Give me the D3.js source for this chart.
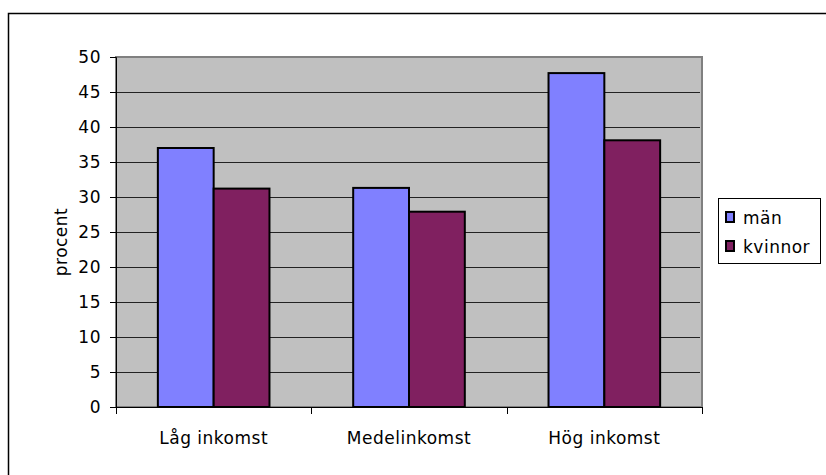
<!DOCTYPE html>
<html>
<head>
<meta charset="utf-8">
<script src="https://cdn.jsdelivr.net/npm/d3@7/dist/d3.min.js"></script>
<style>
  html, body { margin: 0; padding: 0; background: #fff; }
  svg { display: block; font-family: "DejaVu Sans", Verdana, sans-serif; }
  svg text { letter-spacing: 0.5px; }
</style>
</head>
<body>
<svg id="chart" width="826" height="475"></svg>
<script>
// Andel (procent) per inkomstgrupp och kön
const categories = ["Låg inkomst", "Medelinkomst", "Hög inkomst"];
const seriesNames = ["män", "kvinnor"];
const manValues = [37.0, 31.3, 47.7];
const kvinnorValues = [31.2, 27.9, 38.1];
const yTicks = [0, 5, 10, 15, 20, 25, 30, 35, 40, 45, 50];
const colors = ["#8080FF", "#802060"];

const seriesValues = [manValues, kvinnorValues];
const fontSize = 17;
const svg = d3.select("#chart");

// Yttre ram
svg.append("rect")
  .attr("x", 8.5).attr("y", 13.5)
  .attr("width", 900).attr("height", 900)
  .attr("fill", "#fff").attr("stroke", "#000").attr("stroke-width", 1.5);

const plot = { left: 116, right: 702, top: 57, bottom: 407 };

const y = d3.scaleLinear().domain([0, 50]).range([plot.bottom, plot.top]);
const x0 = d3.scaleBand().domain(categories).range([plot.left, plot.right])
  .paddingInner(0).paddingOuter(0);
const x1 = d3.scaleBand().domain(seriesNames).range([0, x0.bandwidth()])
  .paddingInner(0).paddingOuter(0.75);

// Diagramyta
svg.append("rect")
  .attr("x", plot.left).attr("y", plot.top)
  .attr("width", plot.right - plot.left).attr("height", plot.bottom - plot.top)
  .attr("fill", "#C0C0C0").attr("stroke", "#808080").attr("stroke-width", 2);

// Stödlinjer
svg.append("g").selectAll("line")
  .data(yTicks.filter(t => t > 0 && t < 50))
  .join("line")
  .attr("x1", plot.left).attr("x2", plot.right - 2)
  .attr("y1", d => Math.round(y(d)) + 0.5).attr("y2", d => Math.round(y(d)) + 0.5)
  .attr("stroke", "#222").attr("stroke-width", 1);

// Staplar
const groups = svg.append("g").selectAll("g")
  .data(categories)
  .join("g")
  .attr("transform", d => `translate(${x0(d)},0)`);

groups.selectAll("rect")
  .data((d, i) => seriesNames.map((s, j) => ({ s, v: seriesValues[j][i], j })))
  .join("rect")
  .attr("x", d => x1(d.s))
  .attr("y", d => y(d.v))
  .attr("width", x1.bandwidth())
  .attr("height", d => y(0) - y(d.v))
  .attr("fill", d => colors[d.j])
  .attr("stroke", "#000").attr("stroke-width", 2);

// Y-axel
const yAxis = svg.append("g")
  .attr("transform", `translate(${plot.left},0)`)
  .call(d3.axisLeft(y).tickValues(yTicks).tickSize(6).tickPadding(9).tickFormat(d3.format("d")));
yAxis.select(".domain").attr("stroke", "#000");
yAxis.selectAll(".tick line").attr("stroke", "#000");
yAxis.selectAll("text").attr("font-size", fontSize).attr("fill", "#000")
  .attr("font-family", "DejaVu Sans, Verdana, sans-serif");

// X-axel: linje, skiljestreck och kategorinamn
const xAxis = svg.append("g")
  .attr("transform", `translate(0,${plot.bottom})`)
  .call(d3.axisBottom(x0).tickSize(0).tickPadding(25));
xAxis.select(".domain").attr("stroke", "#000");
xAxis.selectAll("text").attr("font-size", fontSize).attr("fill", "#000")
  .attr("font-family", "DejaVu Sans, Verdana, sans-serif");

const boundaries = categories.map(c => x0(c)).concat([x0(categories[2]) + x0.bandwidth()]);
svg.append("g").selectAll("line")
  .data(boundaries)
  .join("line")
  .attr("x1", d => Math.round(d) + 0.5).attr("x2", d => Math.round(d) + 0.5)
  .attr("y1", plot.bottom).attr("y2", plot.bottom + 7)
  .attr("stroke", "#000");

// Y-axelns titel
svg.append("text")
  .attr("transform", `translate(67,${(plot.top + plot.bottom) / 2 + 10}) rotate(-90)`)
  .attr("text-anchor", "middle")
  .attr("font-size", fontSize)
  .text("procent");

// Teckenförklaring
const legend = svg.append("g");
legend.append("rect")
  .attr("x", 718.5).attr("y", 198.5).attr("width", 102).attr("height", 65)
  .attr("fill", "#fff").attr("stroke", "#000").attr("stroke-width", 1);
const items = legend.selectAll("g.item")
  .data(seriesNames)
  .join("g").attr("class", "item")
  .attr("transform", (d, i) => `translate(0,${i * 29})`);
items.append("rect")
  .attr("x", 726).attr("y", 212).attr("width", 8).attr("height", 10)
  .attr("fill", (d, i) => colors[i]).attr("stroke", "#000").attr("stroke-width", 2);
items.append("text")
  .attr("x", 743).attr("y", 224)
  .attr("font-size", fontSize)
  .text(d => d);
</script>
</body>
</html>
